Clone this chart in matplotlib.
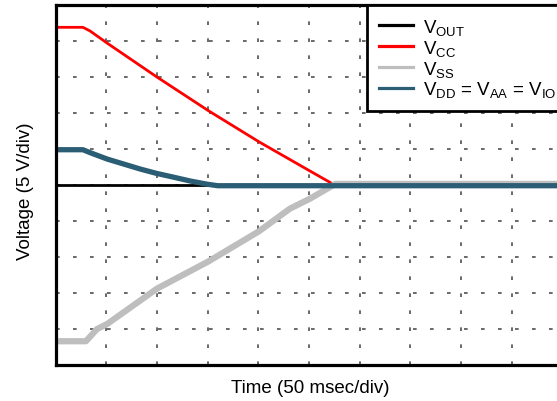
import matplotlib
matplotlib.use("Agg")
import matplotlib.pyplot as plt
from matplotlib.lines import Line2D

plt.rcParams["font.family"] = ["Liberation Sans", "DejaVu Sans"]
plt.rcParams["mathtext.fontset"] = "custom"
plt.rcParams["mathtext.rm"] = "Liberation Sans"
plt.rcParams["mathtext.it"] = "Liberation Sans:italic"
plt.rcParams["mathtext.bf"] = "Liberation Sans:bold"

# Time in ms, voltage in V
vout_t = [0, 500]
vout_v = [0.0, 0.0]

vcc_t = [0, 27, 34, 51, 100, 151, 201, 251, 274, 500]
vcc_v = [21.9, 21.9, 21.4, 19.7, 15.0, 10.3, 5.97, 1.94, 0.1, 0.0]

vss_t = [0, 30, 41, 51, 100, 151, 201, 231, 251, 276, 500]
vss_v = [-21.7, -21.7, -20.0, -19.3, -14.4, -10.6, -6.4, -3.3, -1.9, 0.15, 0.15]

vdd_t = [0, 27, 34, 51, 84, 100, 116, 133, 150, 160, 500]
vdd_v = [4.9, 4.9, 4.5, 3.6, 2.2, 1.6, 1.1, 0.55, 0.1, -0.1, -0.1]

labels = [r"V$_{\mathregular{OUT}}$", r"V$_{\mathregular{CC}}$",
          r"V$_{\mathregular{SS}}$",
          r"V$_{\mathregular{DD}}$ = V$_{\mathregular{AA}}$ = V$_{\mathregular{IO}}$"]
colors = ["#000000", "#FF0000", "#BEBEBE", "#2B5E75"]

W, H = 557, 402
fig = plt.figure(figsize=(W / 100, H / 100), dpi=100)
ax = fig.add_axes([55.5 / W, 36 / H, (562.5 - 55.5) / W, 360 / H])

ax.plot(vout_t, vout_v, color=colors[0], lw=2.0, zorder=3)
ax.plot(vcc_t, vcc_v, color=colors[1], lw=2.0, zorder=4)
ax.plot(vss_t, vss_v, color=colors[2], lw=4.5, zorder=5)
ax.plot(vdd_t, vdd_v, color=colors[3], lw=3.8, zorder=6)

ax.set_xlim(0, 500)
ax.set_ylim(-25, 25)
ax.set_xticks(range(0, 501, 50))
ax.set_yticks(range(-25, 26, 5))
ax.tick_params(length=0, labelbottom=False, labelleft=False)
ax.grid(True, color="#505050", lw=1.2, linestyle=(0, (2.2, 8.0)), zorder=1)
ax.set_axisbelow(True)
for s in ax.spines.values():
    s.set_linewidth(2.3)
    s.set_zorder(10)

fig.text(310 / W, 1 - 389 / H, "Time (50 msec/div)", fontsize=13.5,
         ha="center", va="center")
fig.text(25 / W, 1 - 191 / H, "Voltage (5 V/div)", fontsize=13.5,
         ha="center", va="center", rotation=90)

handles = [Line2D([], [], color=c, lw=2.3) for c in colors]
leg = ax.legend(handles, labels, loc="upper left",
                bbox_to_anchor=(367 / W, 1 - 6 / H),
                bbox_transform=fig.transFigure, fontsize=13.5,
                frameon=True, fancybox=False, framealpha=1,
                edgecolor="black", borderaxespad=0, borderpad=0.62,
                handlelength=1.85, handletextpad=0.5, labelspacing=0.05)
leg.get_frame().set_linewidth(2.0)
leg.set_zorder(20)

fig.savefig("out.png", dpi=100)
